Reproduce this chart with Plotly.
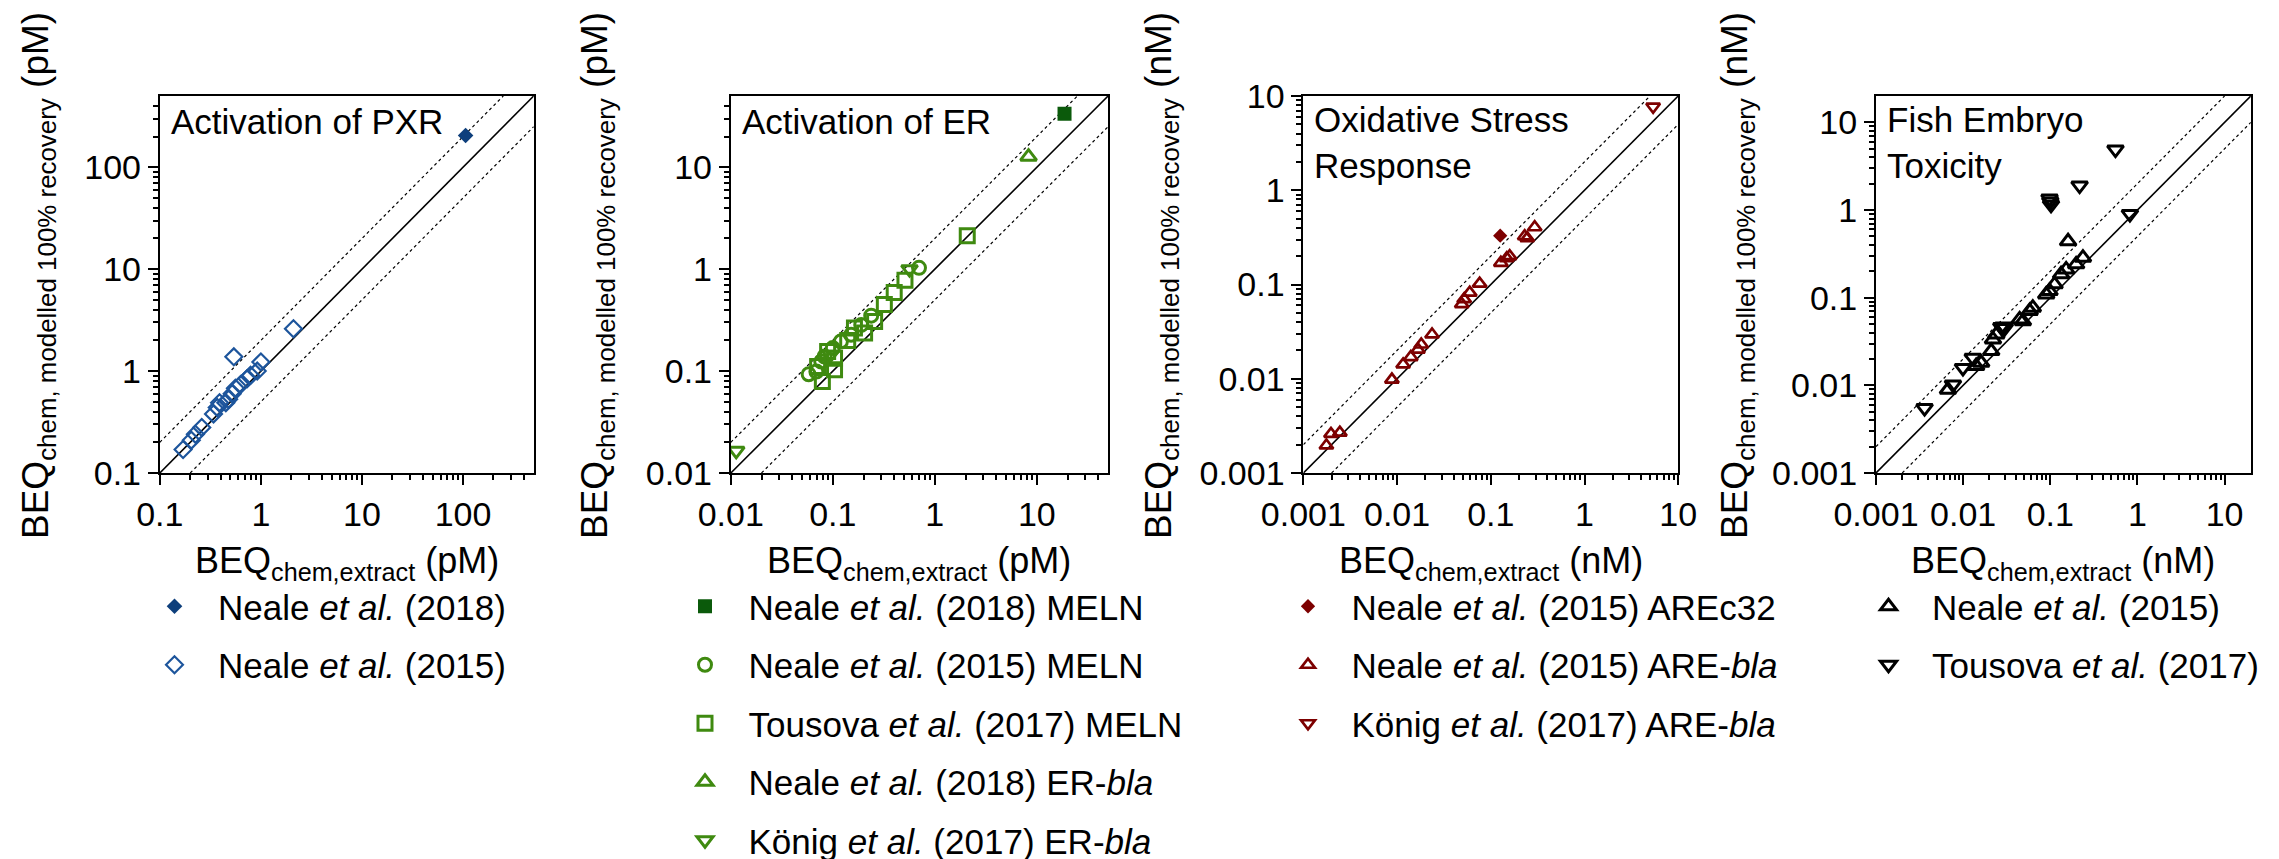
import math
import plotly.graph_objects as go

FONT = "Liberation Sans, Arial, Helvetica, sans-serif"
W, H = 2279, 859

# ---------------- data ----------------
# Panel 1: Activation of PXR (pM)
pxr_neale2018_x = [106]
pxr_neale2018_y = [205]
pxr_neale2015_x = [0.17, 0.205, 0.225, 0.26, 0.34, 0.37, 0.39, 0.45, 0.48, 0.52, 0.56, 0.63, 0.73, 0.79, 0.92, 1.0, 0.54, 2.1]
pxr_neale2015_y = [0.17, 0.21, 0.24, 0.28, 0.38, 0.44, 0.49, 0.49, 0.53, 0.60, 0.68, 0.74, 0.84, 0.91, 1.0, 1.23, 1.38, 2.6]

# Panel 2: Activation of ER (pM)
er_neale2018_meln_x = [18.7]
er_neale2018_meln_y = [33.5]
er_neale2015_meln_x = [0.058, 0.069, 0.077, 0.083, 0.10, 0.12, 0.151, 0.19, 0.238, 0.70]
er_neale2015_meln_y = [0.093, 0.099, 0.124, 0.139, 0.168, 0.195, 0.227, 0.284, 0.35, 1.03]
er_tousova2017_meln_x = [0.079, 0.104, 0.104, 0.089, 0.071, 0.14, 0.163, 0.205, 0.257, 0.32, 0.40, 0.51, 2.08]
er_tousova2017_meln_y = [0.079, 0.103, 0.134, 0.156, 0.111, 0.20, 0.264, 0.236, 0.307, 0.45, 0.59, 0.78, 2.13]
er_neale2018_bla_x = [8.3]
er_neale2018_bla_y = [12.7]
er_konig2017_bla_x = [0.0113, 0.095, 0.565]
er_konig2017_bla_y = [0.0165, 0.145, 1.0]

# Panel 3: Oxidative Stress Response (nM)
ox_neale2015_arec32_x = [0.126]
ox_neale2015_arec32_y = [0.33]
ox_neale2015_bla_x = [0.00176, 0.00197, 0.00245, 0.0088, 0.0116, 0.014, 0.0167, 0.0181, 0.0236,
                      0.049, 0.052, 0.0596, 0.076, 0.128, 0.148, 0.159, 0.23, 0.245, 0.294]
ox_neale2015_bla_y = [0.00196, 0.0026, 0.00268, 0.0098, 0.0142, 0.017, 0.0204, 0.0231, 0.0295,
                      0.062, 0.070, 0.082, 0.102, 0.17, 0.19, 0.20, 0.325, 0.31, 0.405]
ox_konig2017_bla_x = [5.4]
ox_konig2017_bla_y = [7.7]

# Panel 4: Fish Embryo Toxicity (nM)
fet_neale2015_x = [0.0067, 0.0141, 0.0161, 0.021, 0.022, 0.024, 0.0445, 0.0485, 0.058, 0.063,
                   0.0898, 0.098, 0.112, 0.133, 0.152, 0.198, 0.16, 0.237]
fet_neale2015_y = [0.0089, 0.0166, 0.0181, 0.0246, 0.0334, 0.038, 0.0565, 0.054, 0.0705, 0.0769,
                   0.109, 0.119, 0.142, 0.185, 0.21, 0.24, 0.44, 0.286]
fet_tousova2017_x = [0.00361, 0.00764, 0.00995, 0.0129, 0.0274, 0.029, 0.030, 0.098, 0.10, 0.102, 0.217, 0.56, 0.82]
fet_tousova2017_y = [0.0055, 0.0102, 0.0158, 0.0206, 0.0463, 0.047, 0.045, 1.35, 1.25, 1.15, 1.9, 4.9, 0.90]

# tick labels
ticks_p1 = ["0.1", "1", "10", "100"]
ticks_p2 = ["0.01", "0.1", "1", "10"]
ticks_p3 = ["0.001", "0.01", "0.1", "1", "10"]
ticks_p4 = ["0.001", "0.01", "0.1", "1", "10"]

BLUE_F, BLUE_O = "#0e3f7c", "#1d559c"
GREEN_F, GREEN_O = "#0b5a0b", "#3f8a10"
RED = "#7d0000"
BLACK = "#000000"

panels = [
    dict(px=(151.8, 525.7), rng=(0.1, 500), ticks=ticks_p1, unit="pM",
         title="Activation of PXR", title_y=113, ytitle_x=30, leg_left=123,
         series=[
             ("Neale <i>et al.</i> (2018)", pxr_neale2018_x, pxr_neale2018_y, "diamond", BLUE_F, 12, 0),
             ("Neale <i>et al.</i> (2015)", pxr_neale2015_x, pxr_neale2015_y, "diamond-open", BLUE_O, 13, 2.2),
         ]),
    dict(px=(722.8, 1100.1), rng=(0.01, 50), ticks=ticks_p2, unit="pM",
         title="Activation of ER", title_y=113, ytitle_x=589, leg_left=653.5,
         series=[
             ("Neale <i>et al.</i> (2018) MELN", er_neale2018_meln_x, er_neale2018_meln_y, "square", GREEN_F, 14, 0),
             ("Neale <i>et al.</i> (2015) MELN", er_neale2015_meln_x, er_neale2015_meln_y, "circle-open", GREEN_O, 13, 3),
             ("Tousova <i>et al.</i> (2017) MELN", er_tousova2017_meln_x, er_tousova2017_meln_y, "square-open", GREEN_O, 14, 3),
             ("Neale <i>et al.</i> (2018) ER-<i>bla</i>", er_neale2018_bla_x, er_neale2018_bla_y, "triangle-up-open", GREEN_O, 14, 3),
             ("König <i>et al.</i> (2017) ER-<i>bla</i>", er_konig2017_bla_x, er_konig2017_bla_y, "triangle-down-open", GREEN_O, 14, 3),
         ]),
    dict(px=(1295.4, 1670.2), rng=(0.001, 10), ticks=ticks_p3, unit="nM",
         title="Oxidative Stress<br>Response", title_y=135, ytitle_x=1153, leg_left=1256.5,
         series=[
             ("Neale <i>et al.</i> (2015) AREc32", ox_neale2015_arec32_x, ox_neale2015_arec32_y, "diamond", RED, 11, 0),
             ("Neale <i>et al.</i> (2015) ARE-<i>bla</i>", ox_neale2015_bla_x, ox_neale2015_bla_y, "triangle-up-open", RED, 12, 2.7),
             ("König <i>et al.</i> (2017) ARE-<i>bla</i>", ox_konig2017_bla_x, ox_konig2017_bla_y, "triangle-down-open", RED, 12, 2.7),
         ]),
    dict(px=(1868.0, 2242.8), rng=(0.001, 20), ticks=ticks_p4, unit="nM",
         title="Fish Embryo<br>Toxicity", title_y=135, ytitle_x=1729, leg_left=1837,
         series=[
             ("Neale <i>et al.</i> (2015)", fet_neale2015_x, fet_neale2015_y, "triangle-up-open", BLACK, 14, 3),
             ("Tousova <i>et al.</i> (2017)", fet_tousova2017_x, fet_tousova2017_y, "triangle-down-open", BLACK, 14, 3),
         ]),
]

Y_TOP, Y_BOT = 88.0, 465.0
LEG_TOP = 569.0

fig = go.Figure()
layout = dict(width=W, height=H, margin=dict(l=0, r=0, t=0, b=0, autoexpand=False),
              paper_bgcolor="white", plot_bgcolor="white", showlegend=True,
              font=dict(family=FONT, color="black"))
annotations = []

for i, p in enumerate(panels, start=1):
    sfx = "" if i == 1 else str(i)
    xa, ya = "x" + sfx, "y" + sfx
    lo, hi = p["rng"]
    tickvals = [float(t) for t in p["ticks"]]
    minor_vals = []
    for k in range(int(math.floor(math.log10(lo))), int(math.ceil(math.log10(hi))) + 1):
        for m in range(2, 10):
            v = m * 10 ** k
            if lo < v < hi:
                minor_vals.append(v)
    ax = dict(type="log", range=[math.log10(lo), math.log10(hi)], showgrid=False, zeroline=False,
              showline=True, linecolor="black", linewidth=2, mirror=True,
              ticks="outside", ticklen=10, tickwidth=2, tickcolor="black",
              tickmode="array", tickvals=tickvals, ticktext=p["ticks"],
              tickfont=dict(family=FONT, size=34, color="black"),
              minor=dict(tickmode="array", tickvals=minor_vals, ticks="outside", ticklen=5,
                         tickwidth=1.5, tickcolor="black", showgrid=False))
    x0, x1 = p["px"]
    layout["xaxis" + sfx] = dict(ax, domain=[x0 / W, x1 / W], anchor=ya)
    layout["yaxis" + sfx] = dict(ax, domain=[1 - Y_BOT / H, 1 - Y_TOP / H], anchor=xa)

    # reference lines: 1:1 and factor-2 bands
    fig.add_trace(go.Scatter(x=[lo, hi], y=[lo, hi], mode="lines", xaxis=xa, yaxis=ya,
                             line=dict(color="black", width=1.6), showlegend=False, hoverinfo="skip"))
    fig.add_trace(go.Scatter(x=[lo, hi / 2], y=[2 * lo, hi], mode="lines", xaxis=xa, yaxis=ya,
                             line=dict(color="black", width=1.2, dash="dot"), showlegend=False, hoverinfo="skip"))
    fig.add_trace(go.Scatter(x=[2 * lo, hi], y=[lo, hi / 2], mode="lines", xaxis=xa, yaxis=ya,
                             line=dict(color="black", width=1.2, dash="dot"), showlegend=False, hoverinfo="skip"))

    legname = "legend" if i == 1 else "legend" + str(i)
    for j, (name, xs, ys, sym, col, size, lw) in enumerate(p["series"]):
        fig.add_trace(go.Scatter(x=xs, y=ys, mode="markers", name=name, xaxis=xa, yaxis=ya,
                                 legend=legname, legendgroup="p%d_%d" % (i, j),
                                 marker=dict(symbol=sym, size=size, color=col,
                                             line=dict(color=col, width=lw))))
    layout[legname] = dict(x=p["leg_left"] / W, y=1 - LEG_TOP / H, xanchor="left", yanchor="top",
                           bgcolor="rgba(0,0,0,0)", borderwidth=0, tracegroupgap=10,
                           itemwidth=77, font=dict(family=FONT, size=35, color="black"))

    cx = (x0 + x1) / 2
    unit = p["unit"]
    # panel title
    annotations.append(dict(text=p["title"], x=(x0 + 9) / W, y=1 - p["title_y"] / H,
                            xref="paper", yref="paper", xanchor="left", yanchor="middle",
                            align="left", showarrow=False, font=dict(family=FONT, size=35, color="black")))
    # x-axis title
    annotations.append(dict(text="BEQ<sub>chem,extract</sub> (" + unit + ")", x=cx / W, y=1 - 555 / H,
                            xref="paper", yref="paper", xanchor="center", yanchor="middle",
                            showarrow=False, font=dict(family=FONT, size=36, color="black")))
    # y-axis title
    annotations.append(dict(text="BEQ<sub>chem, modelled 100% recovery</sub> (" + unit + ")",
                            x=p["ytitle_x"] / W, y=1 - 268 / H, xref="paper", yref="paper",
                            xanchor="center", yanchor="middle", textangle=-90,
                            showarrow=False, font=dict(family=FONT, size=37, color="black")))

layout["annotations"] = annotations
fig.update_layout(**layout)
fig.write_html("out.html")
